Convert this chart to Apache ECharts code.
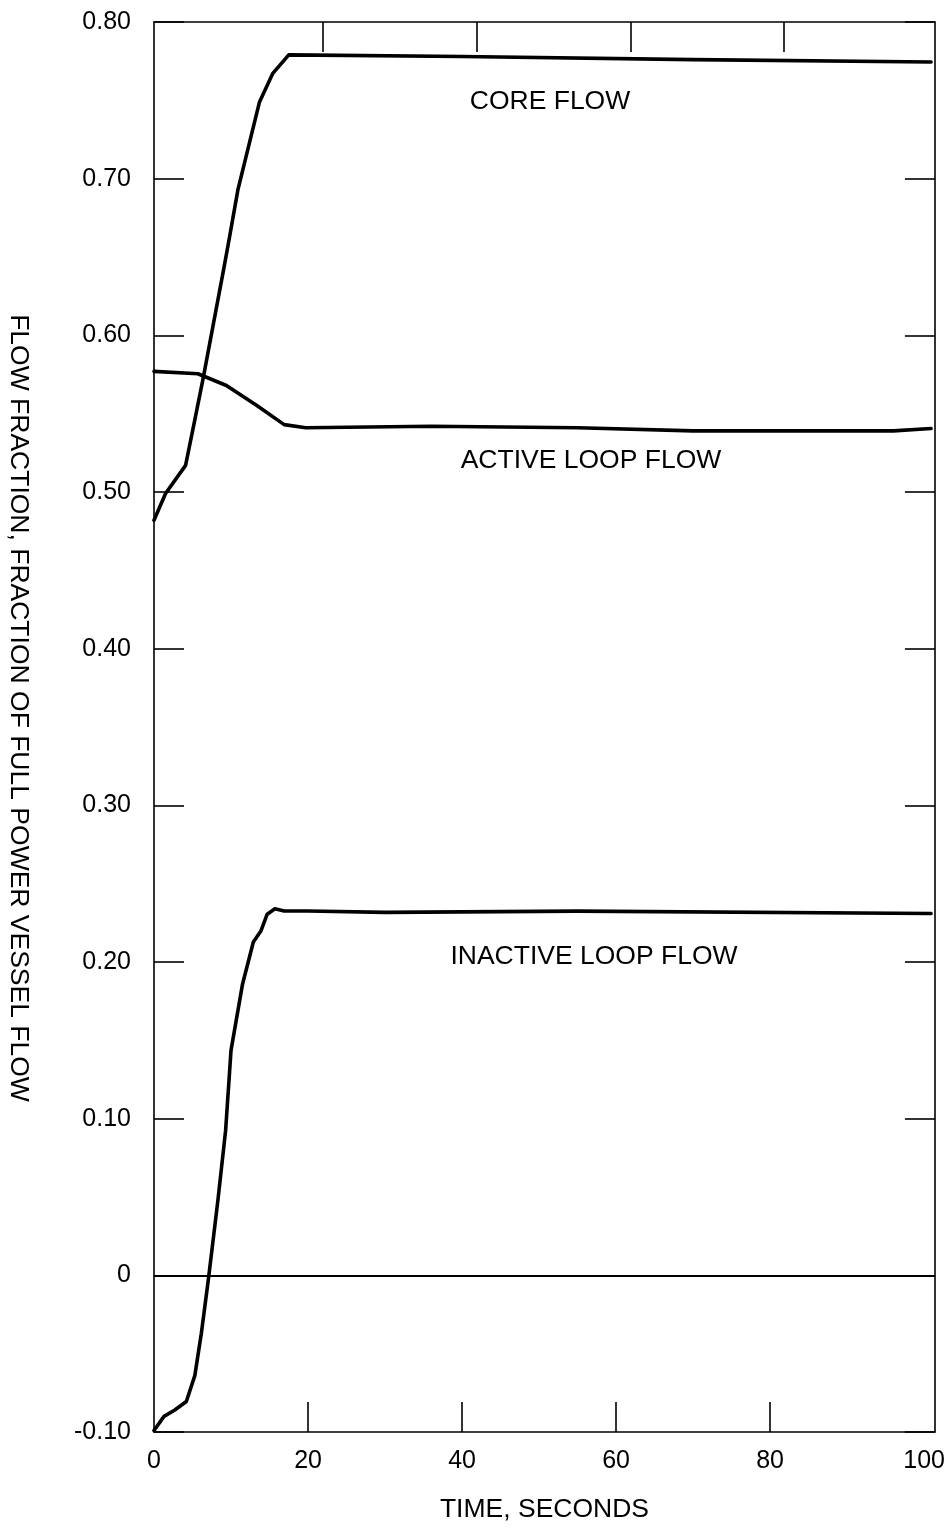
<!DOCTYPE html>
<html><head><meta charset="utf-8">
<script src="https://cdn.jsdelivr.net/npm/echarts@6.0.0/dist/echarts.min.js"></script>
<style>html,body{margin:0;padding:0;background:#fff}#c{width:948px;height:1532px}</style>
</head><body><div id="c"></div>
<script>
// ---- data ----
const xLabelValues = [0, 20, 40, 60, 80, 100];
const xTickValues = [20, 40, 60, 80];
const topTickValues = [21.9, 41.9, 61.9, 81.8];
const yMin = -0.1, yMax = 0.8, yStep = 0.1;
const xMin = 0, xMax = 101.4;

const coreTime = [0, 1.5, 4.1, 5.3, 6.4, 7.7, 9.0, 9.6, 10.9, 13.7, 15.4, 17.5, 40, 70, 100.9];
const coreFlow = [0.482, 0.499, 0.517, 0.546, 0.573, 0.607, 0.641, 0.657, 0.693, 0.749, 0.767, 0.779, 0.778, 0.776, 0.7745];

const activeTime = [0, 5.7, 9.4, 13.4, 16.9, 19.7, 36, 55, 70, 96, 100.9];
const activeFlow = [0.577, 0.5755, 0.568, 0.555, 0.543, 0.541, 0.542, 0.541, 0.539, 0.539, 0.5405];

const inactiveTime = [0, 1.3, 2.7, 4.2, 5.3, 6.15, 7.1, 8.3, 9.3, 10.0, 11.5, 12.9, 13.9, 14.7, 15.7, 16.9, 20, 30, 55, 100.9];
const inactiveFlow = [-0.099, -0.09, -0.086, -0.0805, -0.064, -0.037, -0.001, 0.048, 0.0925, 0.1436, 0.186, 0.2128, 0.22, 0.2305, 0.234, 0.2326, 0.2326, 0.2317, 0.2325, 0.231];

const curveLabels = ['CORE FLOW', 'ACTIVE LOOP FLOW', 'INACTIVE LOOP FLOW'];
const xTitle = 'TIME, SECONDS';
const yTitle = 'FLOW FRACTION, FRACTION OF FULL POWER VESSEL FLOW';

// ---- chart ----
const FONT = '"Liberation Sans", Arial, sans-serif';
const BLACK = '#000';
const pairs = (t, v) => t.map((x, i) => [x, v[i]]);
const axisLine = { show: true, onZero: false, lineStyle: { color: BLACK, width: 1.6 } };
const fmtY = v => (Math.abs(v) < 1e-9 ? '0' : v.toFixed(2));

const chart = echarts.init(document.getElementById('c'), null, { renderer: 'canvas' });
const lineSeries = (name, t, v, extra) => Object.assign({
  name, type: 'line', data: pairs(t, v), showSymbol: false, symbol: 'none',
  smooth: false, animation: false,
  lineStyle: { color: BLACK, width: 3.6, join: 'round', cap: 'round' }
}, extra || {});

chart.setOption({
  backgroundColor: '#fff',
  animation: false,
  textStyle: { fontFamily: FONT, color: BLACK },
  grid: { left: 154, right: 7, top: 22, bottom: 100, containLabel: false },
  xAxis: [{
    type: 'value', position: 'bottom', min: xMin, max: xMax,
    axisLine,
    axisTick: { show: true, inside: true, length: 30, customValues: xTickValues, lineStyle: { color: BLACK, width: 1.6 } },
    axisLabel: { show: true, customValues: xLabelValues, color: BLACK, fontSize: 25, fontFamily: FONT, margin: 17 },
    splitLine: { show: false },
    name: xTitle, nameLocation: 'middle', nameGap: 64,
    nameTextStyle: { color: BLACK, fontSize: 26.5, fontFamily: FONT }
  }, {
    type: 'value', position: 'top', min: xMin, max: xMax,
    axisLine,
    axisTick: { show: true, inside: true, length: 30, customValues: topTickValues, lineStyle: { color: BLACK, width: 1.6 } },
    axisLabel: { show: false },
    splitLine: { show: false }
  }],
  yAxis: [{
    type: 'value', position: 'left', min: yMin, max: yMax, interval: yStep,
    axisLine,
    axisTick: { show: true, inside: true, length: 30, lineStyle: { color: BLACK, width: 1.6 } },
    axisLabel: { show: true, formatter: fmtY, color: BLACK, fontSize: 25, fontFamily: FONT, margin: 23 },
    splitLine: { show: false }
  }, {
    type: 'value', position: 'right', min: yMin, max: yMax, interval: yStep,
    axisLine,
    axisTick: { show: true, inside: true, length: 30, lineStyle: { color: BLACK, width: 1.6 } },
    axisLabel: { show: false },
    splitLine: { show: false }
  }],
  series: [
    lineSeries(curveLabels[0], coreTime, coreFlow, {
      markLine: {
        silent: true, symbol: 'none', animation: false,
        label: { show: false },
        lineStyle: { color: BLACK, width: 1.8, type: 'solid' },
        data: [{ yAxis: 0 }]
      }
    }),
    lineSeries(curveLabels[1], activeTime, activeFlow),
    lineSeries(curveLabels[2], inactiveTime, inactiveFlow)
  ],
  graphic: [
    { type: 'text', x: 550, y: 102, style: { text: curveLabels[0], font: '26.5px ' + FONT, fill: BLACK, align: 'center', verticalAlign: 'middle' } },
    { type: 'text', x: 591, y: 461, style: { text: curveLabels[1], font: '26.5px ' + FONT, fill: BLACK, align: 'center', verticalAlign: 'middle' } },
    { type: 'text', x: 594, y: 957, style: { text: curveLabels[2], font: '26.5px ' + FONT, fill: BLACK, align: 'center', verticalAlign: 'middle' } },
    { type: 'text', x: 18, y: 708, rotation: -Math.PI / 2, style: { text: yTitle, font: '26.5px ' + FONT, fill: BLACK, align: 'center', verticalAlign: 'middle' } }
  ]
});
</script>
</body></html>
